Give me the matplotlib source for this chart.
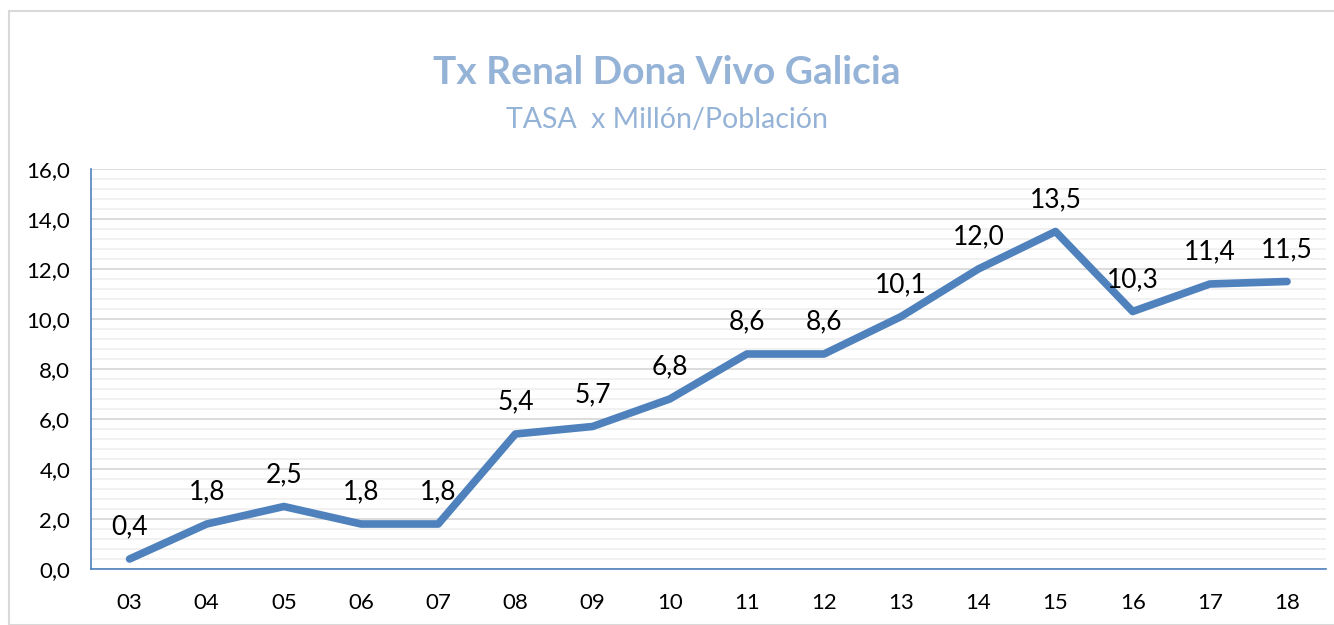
import numpy as np
import matplotlib.pyplot as plt
from matplotlib.patches import Rectangle
from matplotlib.ticker import MultipleLocator, FuncFormatter

years = ["03", "04", "05", "06", "07", "08", "09", "10",
         "11", "12", "13", "14", "15", "16", "17", "18"]
tasa = [0.4, 1.8, 2.5, 1.8, 1.8, 5.4, 5.7, 6.8,
        8.6, 8.6, 10.1, 12.0, 13.5, 10.3, 11.4, 11.5]

plt.rcParams['font.family'] = ['Lato', 'DejaVu Sans']


def coma(v, pos=None):
    return "{:.1f}".format(v).replace(".", ",")


fig = plt.figure(figsize=(13.34, 6.25), dpi=100)
# outer chart frame
fig.patches.append(Rectangle((9/1334, 0), 1.0, 1 - 11/625, transform=fig.transFigure,
                             fill=False, edgecolor="#D9D9D9", linewidth=1.5))

ax = fig.add_axes([0.0682, 0.0896, 0.9255, 0.64])
x = np.arange(len(years))
ax.plot(x, tasa, color="#4F81BD", linewidth=5.5, solid_capstyle="round",
        solid_joinstyle="round", zorder=3)
for xi, v in zip(x, tasa):
    ax.annotate(coma(v), (xi, v), xytext=(0, 14),
                textcoords="offset points", ha="center", va="bottom",
                fontsize=19, color="black", zorder=4)

ax.set_xlim(-0.5, len(years) - 0.5)
ax.set_ylim(0, 16)
ax.set_xticks(x)
ax.set_xticklabels(years)
ax.yaxis.set_major_locator(MultipleLocator(2))
ax.yaxis.set_minor_locator(MultipleLocator(0.4))
ax.yaxis.set_major_formatter(FuncFormatter(coma))
ax.tick_params(axis="both", which="both", length=0, labelsize=16, colors="black")
ax.tick_params(axis="y", pad=15)
ax.tick_params(axis="x", pad=17)
ax.grid(axis="y", which="major", color="#D9D9D9", linewidth=1.3, zorder=0)
ax.grid(axis="y", which="minor", color="#F0F0F0", linewidth=1.3, zorder=0)
for s in ["top", "right"]:
    ax.spines[s].set_visible(False)
for s in ["left", "bottom"]:
    ax.spines[s].set_color("#4F81BD")
    ax.spines[s].set_linewidth(1.2)

fig.text(0.5, 1 - 72/625, "Tx Renal Dona Vivo Galicia", ha="center", va="center",
         fontsize=28, fontweight="bold", color="#95B3D7")
fig.text(0.5, 1 - 120/625, "TASA  x Millón/Población", ha="center", va="center",
         fontsize=20.5, color="#95B3D7")

fig.savefig("out.png", dpi=100)
